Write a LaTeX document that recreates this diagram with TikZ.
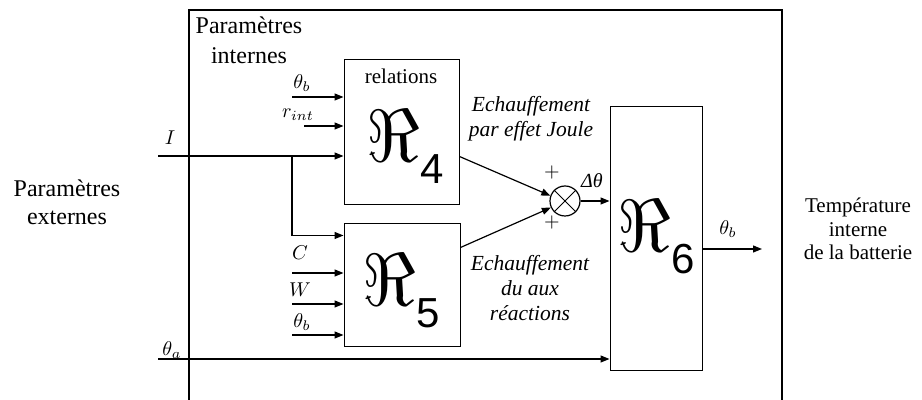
\documentclass[tikz,border=0pt]{standalone}
\usepackage{fontspec}
\setmainfont{Liberation Serif}
\setsansfont{Liberation Sans}
\usepackage{graphicx}
\usetikzlibrary{arrows.meta, positioning}

\newcommand{\relR}[1]{\scalebox{3.7}{$\Re$}\raisebox{-11pt}{\fontsize{21}{21}\selectfont\sffamily #1}}

\begin{document}
\begin{tikzpicture}[x=0.5pt, y=-0.5pt,
    relbox/.style={rectangle, draw, line width=0.5pt, inner sep=0pt},
    sumnode/.style={circle, draw, line width=0.6pt, minimum size=15pt, inner sep=0pt},
    sig/.style={draw, line width=0.6pt, -{Triangle[length=4.5pt,width=3.5pt]}},
    lbl/.style={inner sep=1pt, font=\fontsize{10}{11}\selectfont},
    relname/.style={inner sep=0pt},
    note/.style={align=center, inner sep=0pt, font=\fontsize{10.5}{11.75}\selectfont},
    remark/.style={align=center, inner sep=0pt, font=\itshape\fontsize{10.75}{12.5}\selectfont}
]

\useasboundingbox (0,0) rectangle (922,400);

% Outer frame
\draw[line width=0.6pt] (189,404) -- (189,10) -- (782,10) -- (782,404);

% Blocks
\node[relbox, minimum width=57.5pt, minimum height=72.5pt] (r4) at (401.5,132.5) {};
\node[relbox, minimum width=58pt, minimum height=61.5pt] (r5) at (402,285.5) {};
\node[relbox, minimum width=46pt, minimum height=132pt] (r6) at (656,239) {};
\node[sumnode] (sum) at (565,201) {};
\draw[line width=0.5pt] (sum.north west) -- (sum.south east) (sum.north east) -- (sum.south west);

% Block contents
\node[note] (rel) at (401,76) {relations};
\node[relname] (r4txt) at (405,147) {\relR{4}};
\node[relname] (r5txt) at (401,291) {\relR{5}};
\node[relname] (r6txt) at (656,237) {\relR{6}};

% Texts
\node[note, font=\fontsize{12}{15}\selectfont] (pint) at (249,40) {Paramètres\\internes};
\node[note, font=\fontsize{12}{14}\selectfont] (pext) at (67,202) {Paramètres\\externes};
\node[note] (tint) at (858,229) {Température\\interne\\de la batterie};
\node[remark] (joule) at (531,119) {Echauffement\\par effet Joule};
\node[remark] (reac) at (530,288) {Echauffement\\du aux\\réactions};

% Input points
\coordinate (tb4) at (292,97);
\coordinate (rint) at (304,126);
\coordinate (cur) at (158,156);
\coordinate (br) at (292,156);
\coordinate (cap) at (292,273);
\coordinate (wh) at (292,304);
\coordinate (tb5) at (292,335);
\coordinate (ta) at (158,359);
\coordinate (out) at (762,249);

% Signals
\draw[sig] (tb4) -- (tb4 -| r4.west);
\draw[sig] (rint) -- (rint -| r4.west);
\draw[sig] (cur) -- (cur -| r4.west);
\draw[sig] (br) |- ([yshift=-6pt]r5.north west);
\draw[sig] (cap) -- (cap -| r5.west);
\draw[sig] (wh) -- (wh -| r5.west);
\draw[sig] (tb5) -- (tb5 -| r5.west);
\draw[sig] (ta) -- (ta -| r6.west);
\draw[sig] ([yshift=-12pt]r4.east) -- (sum.160);
\draw[sig] ([yshift=19pt]r5.east) -- (sum.205);
\draw[sig] (sum.east) -- (sum.east -| r6.west);
\draw[sig] ([yshift=-5pt]r6.east) -- (out);

% Labels
\node[lbl] (ltb4) at (302,83) {$\theta_b$};
\node[lbl] (lrint) at (298,115) {$r_{int}$};
\node[lbl] (lcur) at (170,138) {$I$};
\node[lbl] (lcap) at (300,253) {$C$};
\node[lbl] (lwh) at (300,290) {$W$};
\node[lbl] (ltb5) at (302,322) {$\theta_b$};
\node[lbl] (lta) at (172,350) {$\theta_a$};
\node[lbl] (lplus1) at (552,173) {$+$};
\node[lbl] (lplus2) at (552,223) {$+$};
\node[lbl] (ldt) at (592,181) {\itshape Δθ};
\node[lbl] (ltb6) at (728,229) {$\theta_b$};

\end{tikzpicture}
\end{document}
